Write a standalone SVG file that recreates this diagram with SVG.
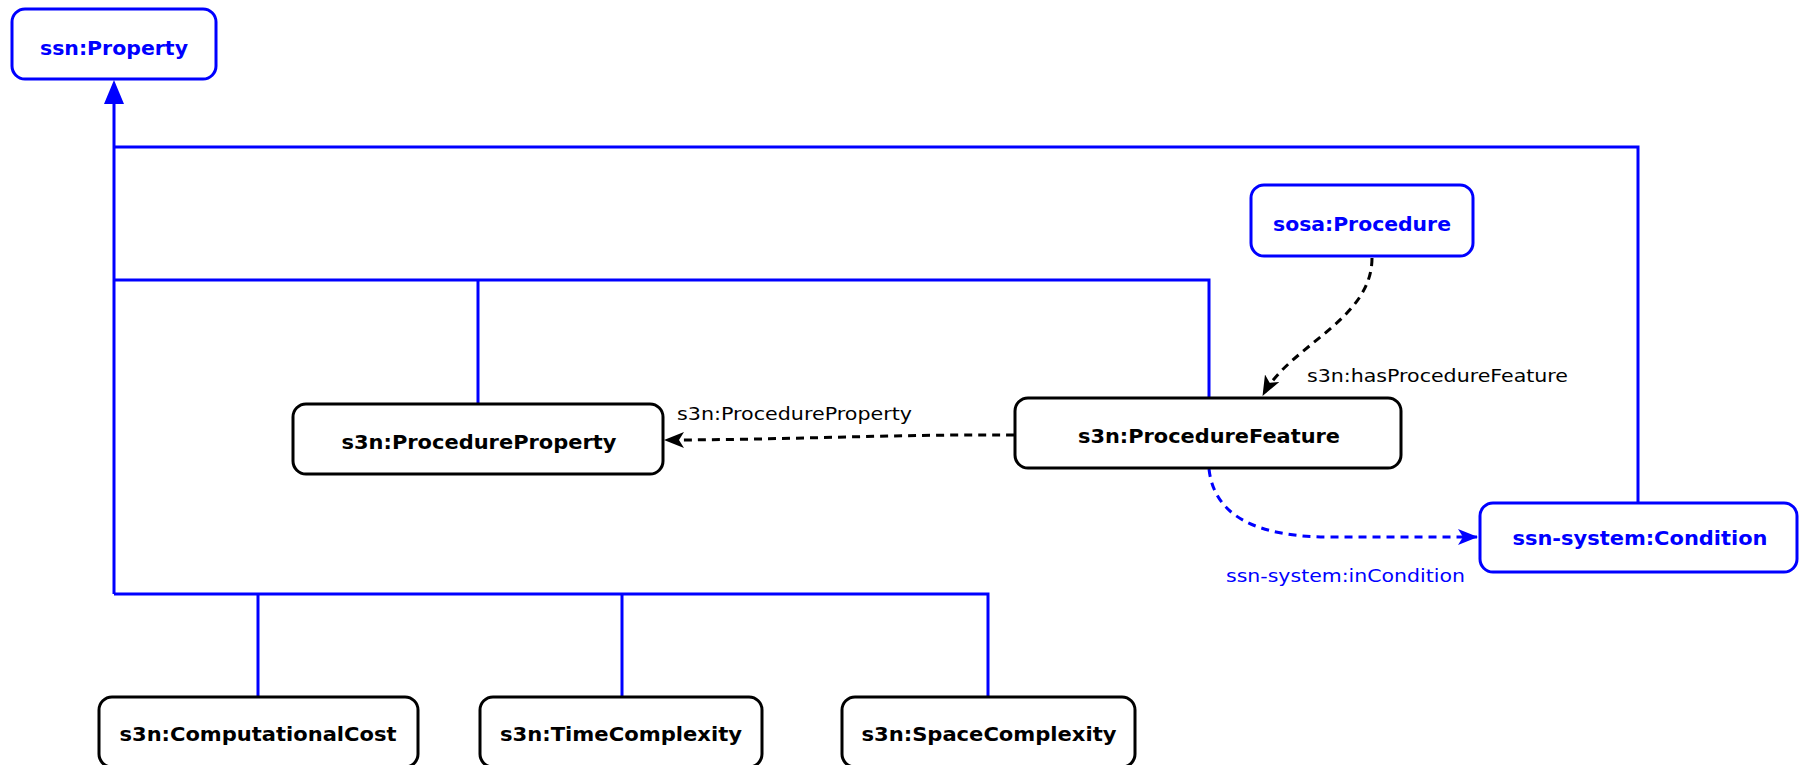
<svg xmlns="http://www.w3.org/2000/svg" width="1804" height="765" viewBox="0 0 1804 765">
  <style>
    .box { fill: #ffffff; stroke-width: 3; }
    .blue { stroke: #0000ff; }
    .black { stroke: #000000; }
    .name { font-family: "DejaVu Sans", Verdana, sans-serif; font-weight: bold; font-size: 20px; text-anchor: middle; }
    .name.blue { fill: #0000ff; stroke: none; }
    .name.black { fill: #000000; stroke: none; }
    .lbl { font-family: "DejaVu Sans", Verdana, sans-serif; font-size: 17px; }
    .tree { fill: none; stroke: #0000ff; stroke-width: 3; }
    .dash { fill: none; stroke-width: 3; stroke-dasharray: 8 6; }
  </style>
  <defs>
    <marker id="arrBlack" viewBox="0 0 20 16" refX="19" refY="8" markerWidth="20" markerHeight="16" markerUnits="userSpaceOnUse" orient="auto">
      <path d="M0,0 L20,8 L0,16 L5,8 z" fill="#000000"/>
    </marker>
    <marker id="arrBlue" viewBox="0 0 20 16" refX="19" refY="8" markerWidth="20" markerHeight="16" markerUnits="userSpaceOnUse" orient="auto">
      <path d="M0,0 L20,8 L0,16 L5,8 z" fill="#0000ff"/>
    </marker>
  </defs>

  <!-- subclass tree -->
  <g id="connectors">
    <path class="tree" d="M114,102 V594"/>
    <path d="M114,80 L104,104 L124,104 z" fill="#0000ff"/>
    <path class="tree" d="M114,147 H1638 V503"/>
    <path class="tree" d="M114,280 H1209 V398"/>
    <path class="tree" d="M478,280 V404"/>
    <path class="tree" d="M114,594 H988 V697"/>
    <path class="tree" d="M258,594 V697"/>
    <path class="tree" d="M622,594 V697"/>

    <!-- object properties -->
    <path class="dash black" d="M1372,258 C1372,320 1290,345 1263,395" marker-end="url(#arrBlack)"/>
    <path class="dash black" d="M1014,435 C900,434 780,440 665,440" marker-end="url(#arrBlack)"/>
    <path class="dash blue" d="M1209,469 C1214,515 1255,537 1330,537 L1477,537" marker-end="url(#arrBlue)"/>

    <text class="lbl" x="677" y="420" textLength="235" lengthAdjust="spacingAndGlyphs" fill="#000000">s3n:ProcedureProperty</text>
    <text class="lbl" x="1307" y="382" textLength="261" lengthAdjust="spacingAndGlyphs" fill="#000000">s3n:hasProcedureFeature</text>
    <text class="lbl" x="1226" y="582" textLength="239" lengthAdjust="spacingAndGlyphs" fill="#0000ff">ssn-system:inCondition</text>
  </g>

  <g id="ssn-Property">
    <rect class="box blue" x="12" y="9" width="204" height="70" rx="13"/>
    <text class="name blue" x="114" y="55" textLength="148" lengthAdjust="spacingAndGlyphs">ssn:Property</text>
  </g>

  <g id="sosa-Procedure">
    <rect class="box blue" x="1251" y="185" width="222" height="71" rx="13"/>
    <text class="name blue" x="1362" y="231" textLength="178" lengthAdjust="spacingAndGlyphs">sosa:Procedure</text>
  </g>

  <g id="s3n-ProcedureProperty">
    <rect class="box black" x="293" y="404" width="370" height="70" rx="13"/>
    <text class="name black" x="479" y="449" textLength="275" lengthAdjust="spacingAndGlyphs">s3n:ProcedureProperty</text>
  </g>

  <g id="s3n-ProcedureFeature">
    <rect class="box black" x="1015" y="398" width="386" height="70" rx="13"/>
    <text class="name black" x="1209" y="443" textLength="262" lengthAdjust="spacingAndGlyphs">s3n:ProcedureFeature</text>
  </g>

  <g id="ssn-system-Condition">
    <rect class="box blue" x="1480" y="503" width="317" height="69" rx="13"/>
    <text class="name blue" x="1640" y="545" textLength="255" lengthAdjust="spacingAndGlyphs">ssn-system:Condition</text>
  </g>

  <g id="s3n-ComputationalCost">
    <rect class="box black" x="99" y="697" width="319" height="70" rx="13"/>
    <text class="name black" x="258" y="741" textLength="277" lengthAdjust="spacingAndGlyphs">s3n:ComputationalCost</text>
  </g>

  <g id="s3n-TimeComplexity">
    <rect class="box black" x="480" y="697" width="282" height="70" rx="13"/>
    <text class="name black" x="621" y="741" textLength="242" lengthAdjust="spacingAndGlyphs">s3n:TimeComplexity</text>
  </g>

  <g id="s3n-SpaceComplexity">
    <rect class="box black" x="842" y="697" width="293" height="70" rx="13"/>
    <text class="name black" x="989" y="741" textLength="255" lengthAdjust="spacingAndGlyphs">s3n:SpaceComplexity</text>
  </g>
</svg>
